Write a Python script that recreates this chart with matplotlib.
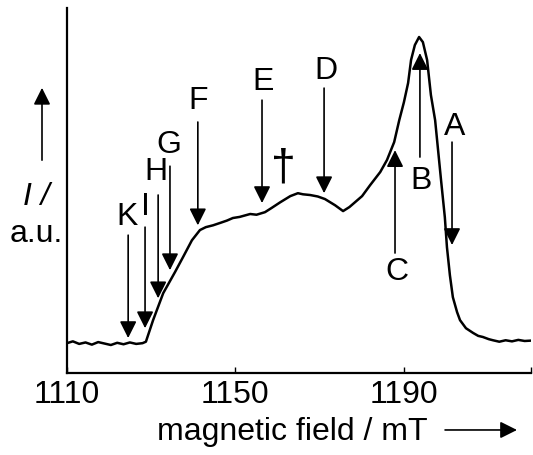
import matplotlib
matplotlib.use('Agg')
import matplotlib.pyplot as plt

plt.rcParams['font.family'] = ['Liberation Sans', 'DejaVu Sans']

# spectrum (field in mT, intensity in arbitrary units)
field = [1110.1, 1111.5, 1113.0, 1114.5, 1116.0, 1117.5, 1119.0, 1120.5, 1122.0, 1123.5,
         1125.0, 1126.5, 1128.0, 1128.8, 1130.5, 1132.9, 1135.7, 1137.6, 1139.7, 1141.6,
         1143.0, 1144.7, 1146.5, 1148.0, 1149.4, 1151.0, 1153.5, 1155.0, 1157.0, 1158.5,
         1160.6, 1163.0, 1164.8, 1166.0, 1167.7, 1169.5, 1171.2, 1173.6, 1175.5, 1177.0,
         1178.3, 1180.0, 1181.9, 1184.3, 1185.9, 1187.6, 1188.8, 1189.9, 1190.9, 1191.6,
         1192.5, 1193.5, 1194.4, 1195.4, 1196.3, 1197.3, 1198.7, 1199.6, 1200.1, 1200.8,
         1201.5, 1202.5, 1203.2, 1204.6, 1206.3, 1207.5, 1208.6, 1210.0, 1211.0, 1212.5,
         1214.0, 1215.5, 1217.0, 1218.5, 1220.0]
intensity = [0.082, 0.087, 0.080, 0.084, 0.078, 0.085, 0.081, 0.077, 0.083, 0.079,
             0.084, 0.080, 0.082, 0.086, 0.145, 0.219, 0.277, 0.318, 0.364, 0.392,
             0.400, 0.405, 0.412, 0.418, 0.425, 0.428, 0.436, 0.434, 0.441, 0.452,
             0.468, 0.485, 0.493, 0.490, 0.488, 0.484, 0.477, 0.460, 0.444, 0.455,
             0.468, 0.485, 0.515, 0.551, 0.584, 0.633, 0.693, 0.742, 0.795, 0.858,
             0.899, 0.921, 0.907, 0.858, 0.762, 0.693, 0.529, 0.427, 0.345, 0.268,
             0.208, 0.167, 0.145, 0.123, 0.110, 0.102, 0.099, 0.093, 0.090, 0.086,
             0.090, 0.087, 0.091, 0.088, 0.089]

# marked positions: label, field, arrow tail, arrow tip, label x, label y
marks = ['K', 'I', 'H', 'G', 'F', 'E', 'D', 'C', 'B', 'A']
mark_field = [1124.6, 1128.6, 1131.7, 1134.5, 1141.1, 1156.3, 1171.0, 1187.8, 1193.7, 1201.3]
mark_tail = [0.378, 0.400, 0.488, 0.567, 0.688, 0.748, 0.781, 0.329, 0.592, 0.633]
mark_tip = [0.096, 0.123, 0.205, 0.282, 0.405, 0.466, 0.493, 0.611, 0.877, 0.351]
label_x = [1124.4, 1128.7, 1131.2, 1134.2, 1141.1, 1156.5, 1171.5, 1188.3, 1193.9, 1202.0]
label_y = [0.428, 0.455, 0.551, 0.625, 0.745, 0.797, 0.827, 0.277, 0.526, 0.674]

dagger_x = 1161.3
dagger_y = 0.562

x_ticks = [1110, 1150, 1190, 1220]
x_ticklabels = ['1110', '1150', '1190', '']

fig = plt.figure(figsize=(5.33, 4.55), dpi=100)
ax = fig.add_axes([0.1248, 0.180, 0.8714, 0.802])

ax.plot(field, intensity, color='black', lw=1.8, solid_joinstyle='round')

for i in range(len(marks)):
    ax.annotate('', xy=(mark_field[i], mark_tip[i]), xytext=(mark_field[i], mark_tail[i]),
                arrowprops=dict(arrowstyle='-|>,head_length=0.6,head_width=0.3',
                                color='black', lw=1.2, mutation_scale=17,
                                shrinkA=0, shrinkB=0))
    ax.text(label_x[i], label_y[i], marks[i], fontsize=23, ha='center', va='center')

ax.text(dagger_x, dagger_y, '\u2020', fontsize=32, ha='center', va='center')

ax.set_xlim(1110, 1220)
ax.set_ylim(0, 1)
ax.set_xticks(x_ticks)
ax.set_xticklabels(x_ticklabels, fontsize=23)
ax.set_yticks([])
ax.tick_params(axis='x', direction='in', length=4, width=1, pad=5)

for s in ['top', 'right']:
    ax.spines[s].set_visible(False)
for s in ['left', 'bottom']:
    ax.spines[s].set_linewidth(1.6)

# axis labels with their arrows
fig.text(0.548, 0.033, 'magnetic field / mT', fontsize=23, ha='center', va='baseline')
fig.add_artist(matplotlib.patches.FancyArrowPatch((0.835, 0.055), (0.970, 0.055),
               transform=fig.transFigure, arrowstyle='-|>,head_length=0.6,head_width=0.3',
               color='black', lw=1.2, mutation_scale=17, shrinkA=0, shrinkB=0))

fig.text(0.069, 0.549, 'I /', fontsize=23, fontstyle='italic', ha='center', va='baseline')
fig.text(0.0675, 0.468, 'a.u.', fontsize=23, ha='center', va='baseline')
fig.add_artist(matplotlib.patches.FancyArrowPatch((0.0788, 0.648), (0.0788, 0.807),
               transform=fig.transFigure, arrowstyle='-|>,head_length=0.6,head_width=0.3',
               color='black', lw=1.2, mutation_scale=17, shrinkA=0, shrinkB=0))

plt.savefig('out.png', dpi=100)
plt.close()
